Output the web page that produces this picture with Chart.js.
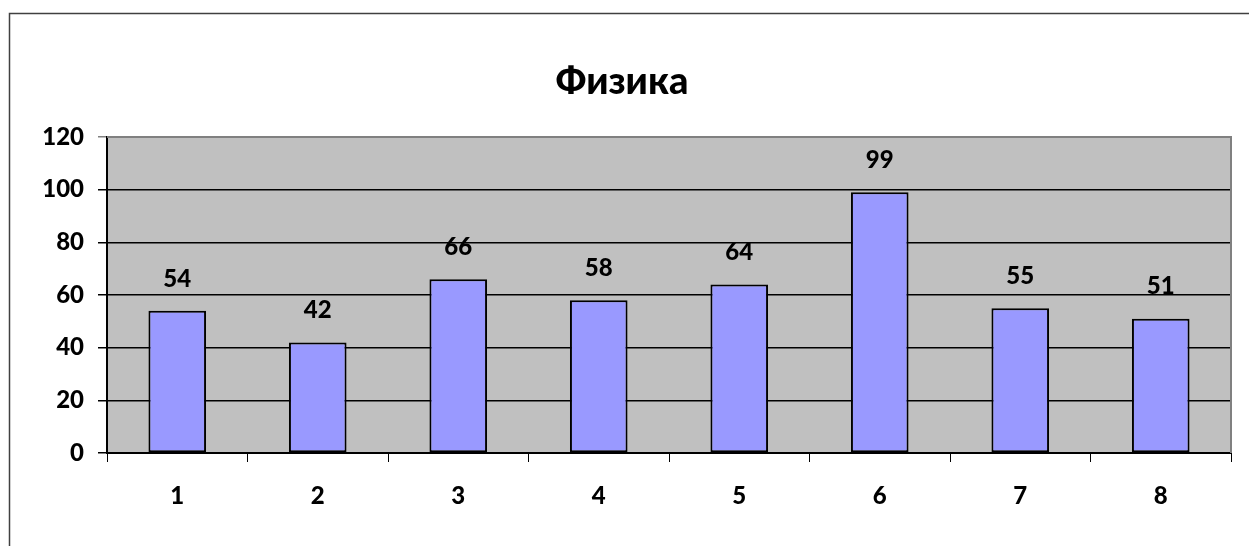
<!DOCTYPE html>
<html>
<head>
<meta charset="utf-8">
<script src="https://cdn.jsdelivr.net/npm/chart.js@4"></script>
<style>
  html, body { margin: 0; padding: 0; background: #fff; }
  #wrap { width: 1249px; height: 546px; }
</style>
</head>
<body>
<div id="wrap"><canvas id="myChart" width="1249" height="546"></canvas></div>
<script>
/*====== data =======*/
const labels = ['1', '2', '3', '4', '5', '6', '7', '8'];
const values = [54, 42, 66, 58, 64, 99, 55, 51];
const yTicks = [0, 20, 40, 60, 80, 100, 120];
const title = 'Физика';

const FONT = "Lato, 'Open Sans', sans-serif";

/*====== frame, plot bg, title, value labels =======*/
const decor = {
  id: 'decor',
  beforeDraw(chart) {
    const c = chart.ctx, a = chart.chartArea;
    c.save();
    c.fillStyle = '#fff';
    c.fillRect(0, 0, chart.width, chart.height);
    c.strokeStyle = '#404040';
    c.lineWidth = 1.5;
    c.strokeRect(9.5, 13.5, 1300, 600);
    c.fillStyle = '#c0c0c0';
    c.fillRect(a.left, a.top, a.right - a.left, a.bottom - a.top);
    c.restore();
  },
  afterDraw(chart) {
    const c = chart.ctx, a = chart.chartArea;
    c.save();
    // gray border top/right of plot
    c.strokeStyle = '#808080';
    c.lineWidth = 2;
    c.beginPath();
    c.moveTo(a.left, a.top);
    c.lineTo(a.right, a.top);
    c.lineTo(a.right, a.bottom);
    c.stroke();
    c.fillStyle = '#000';
    c.font = "900 38px " + FONT;
    c.textAlign = 'center';
    c.textBaseline = 'middle';
    c.fillText(title, 622, 82);
    c.font = "900 24px " + FONT;
    const meta = chart.getDatasetMeta(0);
    meta.data.forEach(function (bar, i) {
      c.fillText(String(values[i]), bar.x, bar.y - 32);
    });
    c.restore();
  }
};

const data = {
  labels: labels,
  datasets: [{
    data: values,
    backgroundColor: '#9999ff',
    borderColor: '#000',
    borderWidth: 2,
    borderSkipped: false,
    categoryPercentage: 1,
    barPercentage: 0.41
  }]
};

const config = {
  type: 'bar',
  data: data,
  plugins: [decor],
  options: {
    responsive: false,
    animation: false,
    layout: { padding: { left: 0, top: 137, right: 18, bottom: 0 } },
    plugins: {
      legend: { display: false },
      title: { display: false },
      tooltip: { enabled: false }
    },
    scales: {
      x: {
        afterFit(s) { s.height = 93; },
        grid: { drawOnChartArea: false, color: '#000', tickLength: 9, offset: true },
        border: { color: '#000', width: 2 },
        ticks: { color: '#000', font: { family: FONT, size: 24, weight: '900' }, padding: 20 }
      },
      y: {
        min: 0,
        max: 120,
        afterFit(s) { s.width = 107; },
        afterBuildTicks(s) { s.ticks = yTicks.map(function (v) { return { value: v }; }); },
        grid: {
          color: function (ctx) { return ctx.tick && ctx.tick.value === 120 ? '#808080' : '#000'; },
          lineWidth: 1.5,
          tickLength: 9
        },
        border: { color: '#000', width: 2 },
        ticks: { color: '#000', font: { family: FONT, size: 24, weight: '900' }, padding: 14 }
      }
    }
  }
};

const myChart = new Chart(document.getElementById('myChart'), config);
</script>
</body>
</html>
